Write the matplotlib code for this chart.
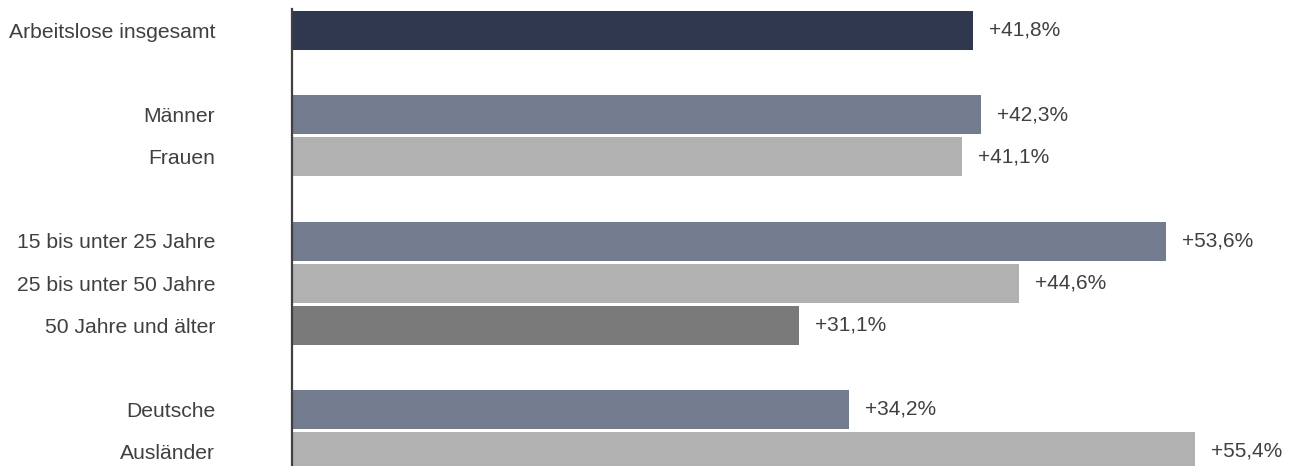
import matplotlib.pyplot as plt
from matplotlib import rcParams

rcParams['font.family'] = ['Liberation Sans', 'DejaVu Sans']

categories = ["Arbeitslose insgesamt", "Männer", "Frauen", "15 bis unter 25 Jahre",
              "25 bis unter 50 Jahre", "50 Jahre und älter", "Deutsche", "Ausländer"]
values = [41.8, 42.3, 41.1, 53.6, 44.6, 31.1, 34.2, 55.4]
slots = [0, 2, 3, 5, 6, 7, 9, 10]
colors = ["#30384f", "#737b8e", "#b1b1b1", "#737b8e", "#b1b1b1", "#7a7a7a", "#737b8e", "#b1b1b1"]
value_labels = ["+41,8%", "+42,3%", "+41,1%", "+53,6%", "+44,6%", "+31,1%", "+34,2%", "+55,4%"]

W, H = 1294, 466
fig = plt.figure(figsize=(W / 100, H / 100), dpi=100)
x0 = 291.5
ax = fig.add_axes([x0 / W, 0, 1 - x0 / W, 1])

pitch = 42.1
ax.barh(slots, values, height=39 / pitch, color=colors, left=0)
ax.set_xlim(0, (W - x0) / 16.31)
top = -30.5 / pitch
ax.set_ylim(top + H / pitch, top)

for s, v, lab in zip(slots, values, value_labels):
    ax.annotate(lab, xy=(v, s), xytext=(16, 0), textcoords='offset pixels',
                va='center', ha='left', fontsize=15, color='#404040')

ax.set_yticks(slots)
ax.set_yticklabels(categories, fontsize=15.2, color='#404040')
ax.tick_params(axis='y', length=0, pad=55)
ax.set_xticks([])
for side in ['top', 'right', 'bottom']:
    ax.spines[side].set_visible(False)
ax.spines['left'].set_color('#404040')
ax.spines['left'].set_linewidth(1.6)
ax.spines['left'].set_bounds(-21.5 / pitch, top + H / pitch)

fig.savefig('out.png', dpi=100)
